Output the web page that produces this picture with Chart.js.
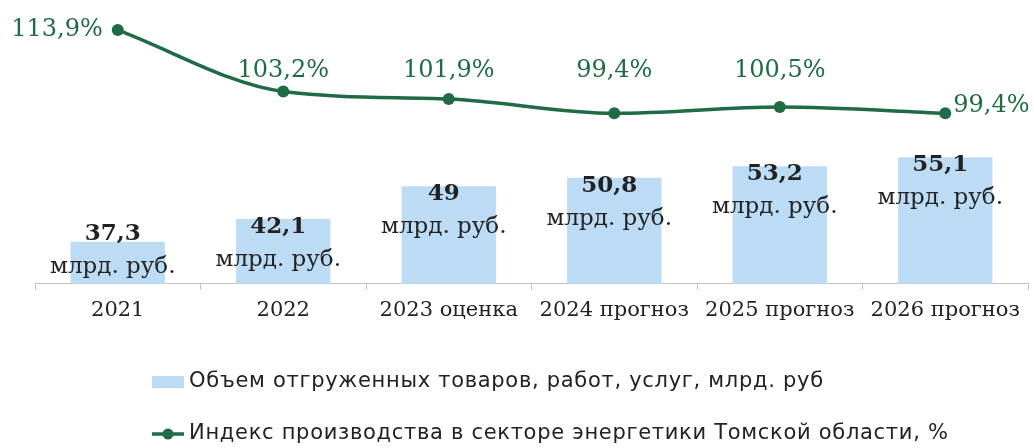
<!DOCTYPE html>
<html lang="ru">
<head>
<meta charset="utf-8">
<script src="https://cdn.jsdelivr.net/npm/chart.js@4.4.0/dist/chart.umd.min.js"></script>
<style>
  html, body { margin: 0; padding: 0; background: #fff; }
</style>
</head>
<body>
<canvas id="chart" width="1034" height="448"></canvas>
<script>
// Data
const categories = ["2021", "2022", "2023 оценка", "2024 прогноз", "2025 прогноз", "2026 прогноз"];
const shipmentValues = [37.3, 42.1, 49, 50.8, 53.2, 55.1];
const indexValues = [113.9, 103.2, 101.9, 99.4, 100.5, 99.4];
const seriesNames = [
  "Объем отгруженных товаров, работ, услуг, млрд. руб",
  "Индекс производства в секторе энергетики Томской области, %"
];
const unitText = "млрд. руб.";

const BAR_COLOR = "#bcdcf6";
const LINE_COLOR = "#1e6b45";
const TEXT_COLOR = "#222222";
const SERIF = "'DejaVu Serif', serif";
const SANS = "'DejaVu Sans', sans-serif";

// hidden axis ranges, picked so bars and line sit where they do in the picture
const BAR_MIN = 28.4, BAR_MAX = 86.2;
const LINE_MIN = 69.7, LINE_MAX = 117.4;

function formatRu(v) {
  return String(v).replace(".", ",");
}

// Labels over bars and line points
const valueLabels = {
  id: "valueLabels",
  afterDatasetsDraw(chart) {
    const ctx = chart.ctx;
    const bottom = chart.chartArea.bottom;
    ctx.save();
    ctx.textBaseline = "middle";
    ctx.textAlign = "center";

    chart.getDatasetMeta(0).data.forEach((bar, i) => {
      const y = Math.min(bar.y + 8, bottom - 50);
      ctx.fillStyle = TEXT_COLOR;
      ctx.font = "bold 23px " + SERIF;
      ctx.fillText(formatRu(shipmentValues[i]), bar.x - 5, y);
      ctx.font = "23px " + SERIF;
      ctx.fillText(unitText, bar.x - 5, y + 33);
    });

    const points = chart.getDatasetMeta(1).data;
    ctx.fillStyle = LINE_COLOR;
    ctx.font = "24px " + SERIF;
    points.forEach((pt, i) => {
      const text = formatRu(indexValues[i]) + "%";
      if (i === 0) {
        ctx.textAlign = "right";
        ctx.fillText(text, pt.x - 15, pt.y);
      } else if (i === points.length - 1) {
        ctx.textAlign = "left";
        ctx.fillText(text, pt.x + 8, pt.y - 8);
      } else {
        ctx.textAlign = "center";
        ctx.fillText(text, pt.x, Math.min(pt.y - 20, 71));
      }
    });
    ctx.restore();
  }
};

// Legend in two left-aligned rows under the axis
const bottomLegend = {
  id: "bottomLegend",
  afterDraw(chart) {
    const ctx = chart.ctx;
    const ds = chart.data.datasets;
    const x0 = 152;
    const rows = [382, 434];
    ctx.save();

    ctx.fillStyle = ds[0].backgroundColor;
    ctx.fillRect(x0, rows[0] - 6, 32, 12);

    ctx.strokeStyle = ds[1].borderColor;
    ctx.lineWidth = 3.5;
    ctx.beginPath();
    ctx.moveTo(x0, rows[1]);
    ctx.lineTo(x0 + 32, rows[1]);
    ctx.stroke();
    ctx.fillStyle = ds[1].borderColor;
    ctx.beginPath();
    ctx.arc(x0 + 16, rows[1], 5.5, 0, Math.PI * 2);
    ctx.fill();

    ctx.fillStyle = TEXT_COLOR;
    ctx.font = "21px " + SANS;
    ctx.letterSpacing = "0.7px";
    ctx.textAlign = "left";
    ctx.textBaseline = "middle";
    ctx.fillText(ds[0].label, x0 + 37, rows[0]);
    ctx.fillText(ds[1].label, x0 + 37, rows[1]);
    ctx.restore();
  }
};

const ctx = document.querySelector("#chart").getContext("2d");
const chart = new Chart(ctx, {
  data: {
    labels: categories,
    datasets: [
      {
        type: "bar",
        label: seriesNames[0],
        data: shipmentValues,
        yAxisID: "yBar",
        backgroundColor: BAR_COLOR,
        borderWidth: 0,
        barPercentage: 0.57,
        categoryPercentage: 1,
        order: 1
      },
      {
        type: "line",
        label: seriesNames[1],
        data: indexValues,
        yAxisID: "yLine",
        borderColor: LINE_COLOR,
        backgroundColor: LINE_COLOR,
        borderWidth: 3.5,
        pointRadius: 6,
        pointBackgroundColor: LINE_COLOR,
        pointBorderWidth: 0,
        cubicInterpolationMode: "monotone",
        fill: false,
        order: 0
      }
    ]
  },
  options: {
    responsive: false,
    animation: false,
    devicePixelRatio: 1,
    layout: {
      padding: { left: 35, right: 2, top: 10, bottom: 117 }
    },
    plugins: {
      legend: { display: false },
      tooltip: { enabled: false }
    },
    scales: {
      x: {
        offset: true,
        grid: {
          offset: true,
          drawOnChartArea: false,
          tickLength: 6,
          color: "#c4c4c4"
        },
        border: { color: "#c4c4c4" },
        ticks: {
          color: TEXT_COLOR,
          font: { family: SERIF, size: 21 },
          padding: 8,
          maxRotation: 0,
          autoSkip: false
        }
      },
      yBar: { display: false, min: BAR_MIN, max: BAR_MAX },
      yLine: { display: false, min: LINE_MIN, max: LINE_MAX }
    }
  },
  plugins: [valueLabels, bottomLegend]
});
</script>
</body>
</html>
